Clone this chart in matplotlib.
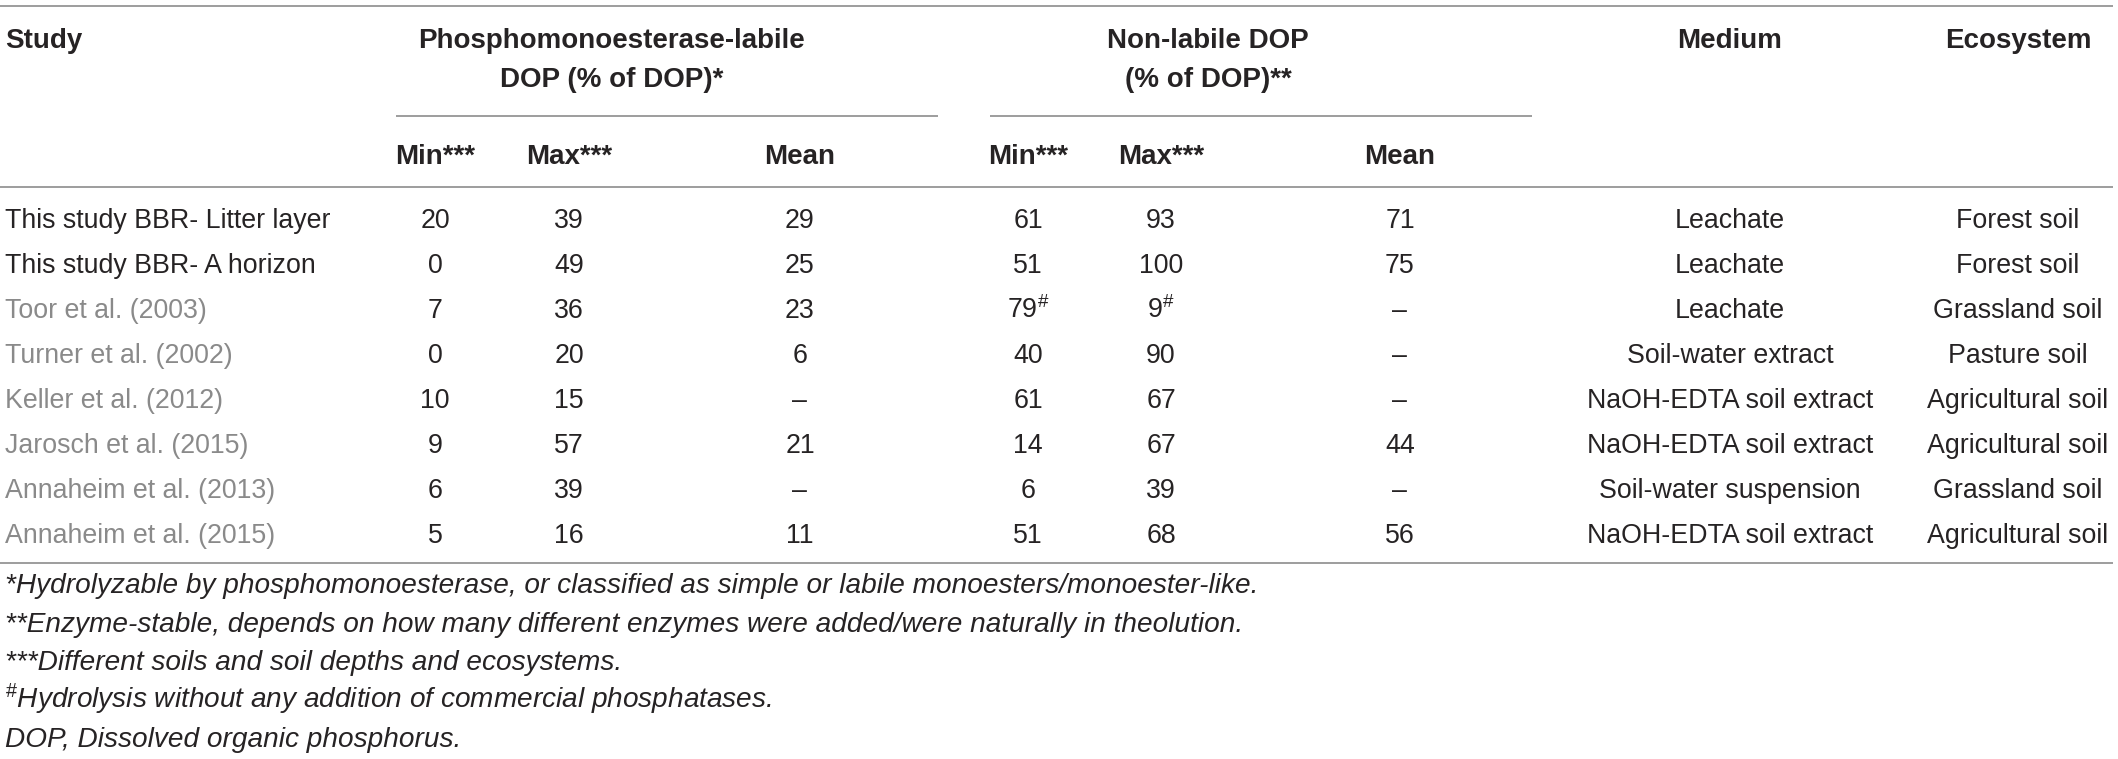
import matplotlib
matplotlib.use("Agg")
import matplotlib.pyplot as plt
from matplotlib import font_manager

# ---------------- data ----------------
studies = ["This study BBR- Litter layer", "This study BBR- A horizon", "Toor et al. (2003)",
           "Turner et al. (2002)", "Keller et al. (2012)", "Jarosch et al. (2015)",
           "Annaheim et al. (2013)", "Annaheim et al. (2015)"]
is_citation = [False, False, True, True, True, True, True, True]
labile_min = ["20", "0", "7", "0", "10", "9", "6", "5"]
labile_max = ["39", "49", "36", "20", "15", "57", "39", "16"]
labile_mean = ["29", "25", "23", "6", "–", "21", "–", "11"]
nonlabile_min = ["61", "51", "79#", "40", "61", "14", "6", "51"]
nonlabile_max = ["93", "100", "9#", "90", "67", "67", "39", "68"]
nonlabile_mean = ["71", "75", "–", "–", "–", "44", "–", "56"]
medium = ["Leachate", "Leachate", "Leachate", "Soil-water extract", "NaOH-EDTA soil extract",
          "NaOH-EDTA soil extract", "Soil-water suspension", "NaOH-EDTA soil extract"]
ecosystem = ["Forest soil", "Forest soil", "Grassland soil", "Pasture soil", "Agricultural soil",
             "Agricultural soil", "Grassland soil", "Agricultural soil"]
group_headers = [("Phosphomonoesterase-labile", "DOP (% of DOP)*"), ("Non-labile DOP", "(% of DOP)**")]
sub_headers = ["Min***", "Max***", "Mean", "Min***", "Max***", "Mean"]
footnotes = ["*Hydrolyzable by phosphomonoesterase, or classified as simple or labile monoesters/monoester-like.",
             "**Enzyme-stable, depends on how many different enzymes were added/were naturally in theolution.",
             "***Different soils and soil depths and ecosystems.",
             "#Hydrolysis without any addition of commercial phosphatases.",
             "DOP, Dissolved organic phosphorus."]

# ---------------- style ----------------
available = {f.name for f in font_manager.fontManager.ttflist}
FONT = "Liberation Sans" if "Liberation Sans" in available else "DejaVu Sans"
plt.rcParams["font.family"] = [FONT, "DejaVu Sans"]
plt.rcParams["mathtext.fontset"] = "custom"
plt.rcParams["mathtext.rm"] = FONT
plt.rcParams["mathtext.it"] = FONT + ":italic"
plt.rcParams["mathtext.bf"] = FONT + ":bold"

DARK = "#262324"
GRAY = "#8a8a8a"
LINE = "#9d9d9d"
BODY = 19.3
HEAD = 20.0
FOOT = 20.2

W, H = 2118, 759
fig = plt.figure(figsize=(W / 100, H / 100), dpi=100)
ax = fig.add_axes([0, 0, 1, 1])
ax.set_xlim(0, W)
ax.set_ylim(H, 0)
ax.axis("off")

# layout (pixel coordinates)
left_x = 5
col_x = [435, 569, 800, 1028, 1161, 1400]
medium_x, eco_x = 1730, 2018
group_x = [612, 1208]
underline_spans = [(396, 938), (990, 1532)]
row0, row_step = 228, 45
foot0, foot_step = 593, 38.5


def fmt(v):
    if v.endswith("#"):
        return v[:-1] + r"$^{\mathrm{\#}}$"
    return v


# rules
for y in (6, 187, 563):
    ax.plot([0, 2113], [y, y], color=LINE, lw=1.4, solid_capstyle="butt")
for x0, x1 in underline_spans:
    ax.plot([x0, x1], [116, 116], color=LINE, lw=1.4, solid_capstyle="butt")

# headers
ax.text(left_x, 48, "Study", fontsize=HEAD, fontweight="bold", color=DARK, va="baseline", ha="left")
for gx, (l1, l2) in zip(group_x, group_headers):
    ax.text(gx, 48, l1, fontsize=HEAD, fontweight="bold", color=DARK, va="baseline", ha="center")
    ax.text(gx, 87, l2, fontsize=HEAD, fontweight="bold", color=DARK, va="baseline", ha="center")
ax.text(medium_x, 48, "Medium", fontsize=HEAD, fontweight="bold", color=DARK, va="baseline", ha="center")
ax.text(eco_x, 48, "Ecosystem", fontsize=HEAD, fontweight="bold", color=DARK, va="baseline", ha="center")
for x, s in zip(col_x, sub_headers):
    ax.text(x, 164, s, fontsize=HEAD, fontweight="bold", color=DARK, va="baseline", ha="center")

# body
cols = [labile_min, labile_max, labile_mean, nonlabile_min, nonlabile_max, nonlabile_mean]
for i, name in enumerate(studies):
    y = row0 + i * row_step
    ax.text(left_x, y, name, fontsize=BODY, color=GRAY if is_citation[i] else DARK,
            va="baseline", ha="left")
    for x, col in zip(col_x, cols):
        ax.text(x, y, fmt(col[i]), fontsize=BODY, color=DARK, va="baseline", ha="center")
    ax.text(medium_x, y, medium[i], fontsize=BODY, color=DARK, va="baseline", ha="center")
    ax.text(eco_x, y, ecosystem[i], fontsize=BODY, color=DARK, va="baseline", ha="center")

# footnotes
for k, note in enumerate(footnotes):
    y = foot0 + k * foot_step
    if note.startswith("#"):
        s = r"$^{\mathrm{\#}}$" + note[1:]
    else:
        s = note
    ax.text(left_x, y, s, fontsize=FOOT, style="italic", color=DARK, va="baseline", ha="left")

fig.savefig("out.png", dpi=100)
